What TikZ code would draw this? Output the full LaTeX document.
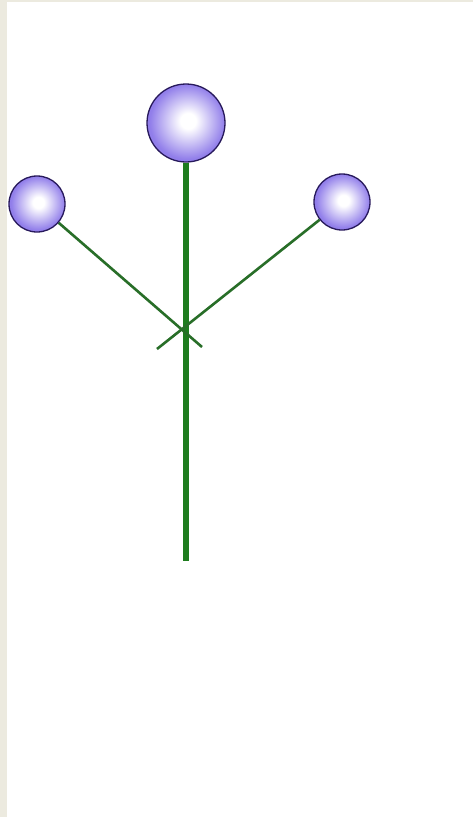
\documentclass[tikz,border=0pt]{standalone}
\usetikzlibrary{backgrounds}
\definecolor{beige}{RGB}{236,234,223}
\definecolor{purp}{RGB}{145,126,234}
\definecolor{edge}{RGB}{40,26,92}
\definecolor{stemgreen}{RGB}{30,124,30}
\definecolor{branchgreen}{RGB}{40,110,40}
\pgfdeclareradialshading{ballshade}{\pgfpoint{1.5bp}{1.5bp}}{color(0bp)=(white); color(5bp)=(white); color(24bp)=(purp); color(50bp)=(purp)}
\tikzset{
  ball/.style={circle, draw=edge, line width=1.3pt, inner sep=0pt, shading=ballshade},
  stemline/.style={draw=stemgreen, line width=6pt},
  branchline/.style={draw=branchgreen, line width=2.6pt},
}
\begin{document}
\begin{tikzpicture}[x=1pt,y=-1pt]
\useasboundingbox (0,0) rectangle (473,817);
\node[ball, minimum size=78pt] (B) at (186,123) {};
\node[ball, minimum size=56pt] (L) at (37,204) {};
\node[ball, minimum size=56pt] (R) at (342,202) {};
\coordinate (bottom) at (186,561);
\coordinate (Lend) at (202,347);
\coordinate (Rend) at (157,349);
\begin{scope}[on background layer]
  \fill[white] (0,0) rectangle (473,817);
  \fill[beige] (0,0) rectangle (7,817);
  \fill[beige] (0,0) rectangle (473,2);
  \path[stemline] (B.south) -- (bottom);
  \path[branchline] (L) -- (Lend);
  \path[branchline] (R) -- (Rend);
\end{scope}
\end{tikzpicture}
\end{document}
